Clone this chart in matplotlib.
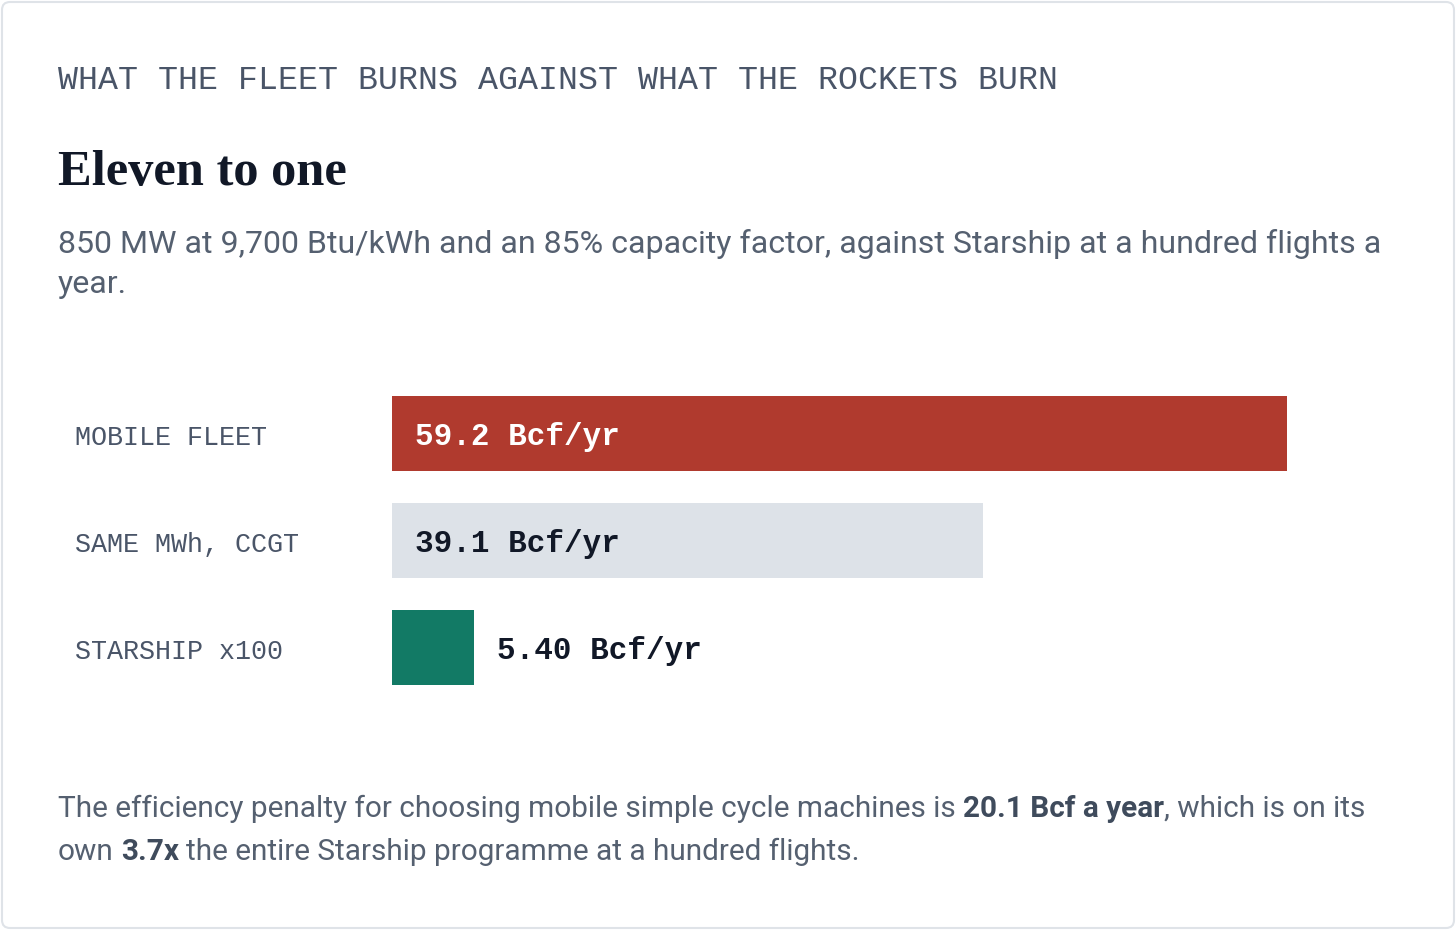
import matplotlib
matplotlib.use("Agg")
import matplotlib.pyplot as plt
from matplotlib.patches import FancyBboxPatch
from matplotlib.transforms import IdentityTransform, blended_transform_factory

# data
categories = ["MOBILE FLEET", "SAME MWh, CCGT", "STARSHIP x100"]
values = [59.2, 39.1, 5.40]
value_labels = ["59.2 Bcf/yr", "39.1 Bcf/yr", "5.40 Bcf/yr"]
bar_colors = ["#b03a2e", "#dde2e8", "#127a65"]
label_colors = ["#ffffff", "#111827", "#111827"]

kicker = "WHAT THE FLEET BURNS AGAINST WHAT THE ROCKETS BURN"
title = "Eleven to one"
subtitle = ["850 MW at 9,700 Btu/kWh and an 85% capacity factor, against Starship at a hundred flights a",
            "year."]
footer = [
    [("The efficiency penalty for choosing mobile simple cycle machines is ", "normal"),
     ("20.1 Bcf a year", "bold"), (", which is on its", "normal")],
    [("own ", "normal"), ("3.7x", "bold"), (" the entire Starship programme at a hundred flights.", "normal")],
]

W, H = 1456, 930
SLATE = "#4a5568"
DARK = "#111827"
MONO = "Liberation Mono"
SANS = "Roboto"


def pt(px):
    return px * 0.72


def fx(x):
    return x / W


def fy(y):
    return 1 - y / H


fig = plt.figure(figsize=(W / 100, H / 100), dpi=100)
fig.patch.set_facecolor("white")

card = FancyBboxPatch((2, 2), W - 4, H - 4, boxstyle="round,pad=0,rounding_size=8",
                      transform=IdentityTransform(), facecolor="white",
                      edgecolor="#dfe3e8", linewidth=1.5, zorder=-10)
fig.add_artist(card)

fig.text(fx(58), fy(89), kicker, fontsize=pt(33.3), family=MONO, color=SLATE, va="baseline")
fig.text(fx(58), fy(185), title, fontsize=pt(50.5), family="Liberation Serif", weight="bold",
         color=DARK, va="baseline")
for i, line in enumerate(subtitle):
    fig.text(fx(58), fy(253 + 40 * i), line, fontsize=pt(32.2), family=SANS, color="#556070",
             va="baseline")

# bars
ax = fig.add_axes([fx(392), fy(701), fx(1287) - fx(392), (701 - 380) / H])
ypos = list(range(len(categories)))
ax.barh(ypos, values, height=0.71, color=bar_colors)
ax.set_xlim(0, max(values))
ax.set_ylim(len(categories) - 0.5, -0.5)
ax.axis("off")

lab_tr = blended_transform_factory(fig.transFigure, ax.transData)
for i, cat in enumerate(categories):
    ax.annotate(cat, (fx(75), i), xycoords=lab_tr, xytext=(0, pt(-11.5)),
                textcoords="offset points", fontsize=pt(26.8), family=MONO, color=SLATE,
                va="baseline", ha="left")
    inside = values[i] / max(values) > 0.3
    x = 0 if inside else values[i]
    ax.annotate(value_labels[i], (x, i), xytext=(pt(23), pt(-11.5)), textcoords="offset points",
                fontsize=pt(31), family=MONO, weight="bold",
                color=label_colors[i] if inside else DARK, va="baseline", ha="left")

# footer with bold runs
fig.canvas.draw()
renderer = fig.canvas.get_renderer()
FOOT = 29.7


def text_width(s, weight):
    t = fig.text(0, 0, s, fontsize=pt(FOOT), family=SANS, weight=weight)
    w = t.get_window_extent(renderer).width
    t.remove()
    return w


for li, line in enumerate(footer):
    x = 58
    y = fy(817 + 43 * li)
    for seg, weight in line:
        sp = text_width("x x", weight) - text_width("xx", weight)
        lead = len(seg) - len(seg.lstrip(" "))
        trail = len(seg) - len(seg.rstrip(" "))
        x += lead * sp
        t = fig.text(fx(x), y, seg.strip(" "), fontsize=pt(FOOT), family=SANS, weight=weight,
                     color="#3f4b5c" if weight == "bold" else "#556070", va="baseline")
        x = t.get_window_extent(renderer).x1 + trail * sp

fig.savefig("out.png", dpi=100, facecolor="white")
